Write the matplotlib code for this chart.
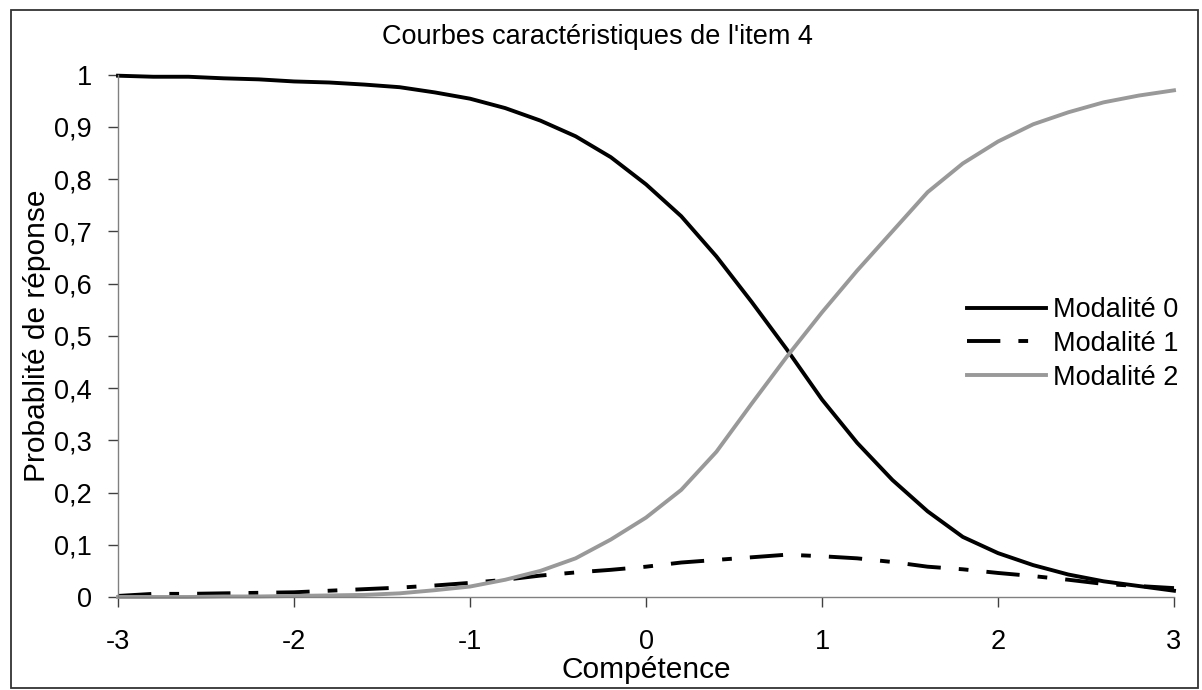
import numpy as np
import matplotlib
matplotlib.use('Agg')
import matplotlib.pyplot as plt
from matplotlib.patches import Rectangle

plt.rcParams['font.family'] = ['Liberation Sans', 'DejaVu Sans']
plt.rcParams['lines.scale_dashes'] = False

# competence grid and response probabilities
competence = [-3.0, -2.8, -2.6, -2.4, -2.2, -2.0, -1.8, -1.6, -1.4, -1.2, -1.0,
              -0.8, -0.6, -0.4, -0.2, 0.0, 0.2, 0.4, 0.6, 0.8, 1.0,
              1.2, 1.4, 1.6, 1.8, 2.0, 2.2, 2.4, 2.6, 2.8, 3.0]
modalite0 = [0.998, 0.996, 0.996, 0.993, 0.991, 0.987, 0.985, 0.981, 0.976, 0.966, 0.954,
             0.936, 0.912, 0.882, 0.842, 0.790, 0.729, 0.652, 0.565, 0.474, 0.378,
             0.295, 0.224, 0.164, 0.115, 0.084, 0.061, 0.043, 0.030, 0.021, 0.012]
modalite1 = [0.002, 0.006, 0.006, 0.007, 0.008, 0.009, 0.012, 0.015, 0.018, 0.022, 0.027,
             0.033, 0.041, 0.047, 0.052, 0.058, 0.066, 0.071, 0.076, 0.081, 0.078,
             0.074, 0.067, 0.058, 0.053, 0.046, 0.040, 0.033, 0.025, 0.021, 0.017]
modalite2 = [0.000, 0.000, 0.000, 0.001, 0.001, 0.002, 0.003, 0.004, 0.007, 0.013, 0.020,
             0.033, 0.050, 0.074, 0.110, 0.152, 0.205, 0.278, 0.370, 0.460, 0.545,
             0.625, 0.700, 0.775, 0.830, 0.872, 0.905, 0.928, 0.947, 0.960, 0.970]

xticks = [-3, -2, -1, 0, 1, 2, 3]
yticks = [0, 0.1, 0.2, 0.3, 0.4, 0.5, 0.6, 0.7, 0.8, 0.9, 1]
ytick_labels = ['0', '0,1', '0,2', '0,3', '0,4', '0,5', '0,6', '0,7', '0,8', '0,9', '1']

fig = plt.figure(figsize=(12.02, 6.90), dpi=100)
ax = fig.add_axes([0.0982, 0.1348, 0.8785, 0.757])

ax.plot(competence, modalite0, color='black', lw=2.8, label='Modalité 0', clip_on=False)
ax.plot(competence, modalite1, color='black', lw=2.8, dashes=(24, 13, 7, 13),
        label='Modalité 1', clip_on=False)
ax.plot(competence, modalite2, color='#999999', lw=2.8, label='Modalité 2', clip_on=False)

ax.set_xlim(-3, 3)
ax.set_ylim(0, 1)
ax.set_xticks(xticks)
ax.set_xticklabels([str(v) for v in xticks])
ax.set_yticks(yticks)
ax.set_yticklabels(ytick_labels)

for s in ['top', 'right']:
    ax.spines[s].set_visible(False)
for s in ['left', 'bottom']:
    ax.spines[s].set_color('#808080')
    ax.spines[s].set_linewidth(1.0)

ax.tick_params(axis='y', direction='out', length=7, width=1, color='#404040',
               labelsize=19.5, pad=12)
ax.tick_params(axis='x', direction='out', length=7, width=1, color='#404040',
               labelsize=19.5, pad=16)

ax.set_xlabel('Compétence', fontsize=21.5, labelpad=1)
ax.set_ylabel('Probablité de réponse', fontsize=21.5, labelpad=2)

fig.text(0.497, 0.946, "Courbes caractéristiques de l'item 4", fontsize=19.5,
         ha='center', va='center')

ax.legend(loc='upper left', bbox_to_anchor=(967 / 1202, 1 - 297 / 690),
          bbox_transform=fig.transFigure, frameon=False, fontsize=19.5,
          borderpad=0, borderaxespad=0, handlelength=2.9, handletextpad=0.26,
          labelspacing=0.29)

# chart area border
fig.patches.append(Rectangle((0.0092, 0.003), 0.9875, 0.9825, transform=fig.transFigure,
                             fill=False, edgecolor='#333333', lw=1.3))

fig.savefig('out.png', dpi=100)
